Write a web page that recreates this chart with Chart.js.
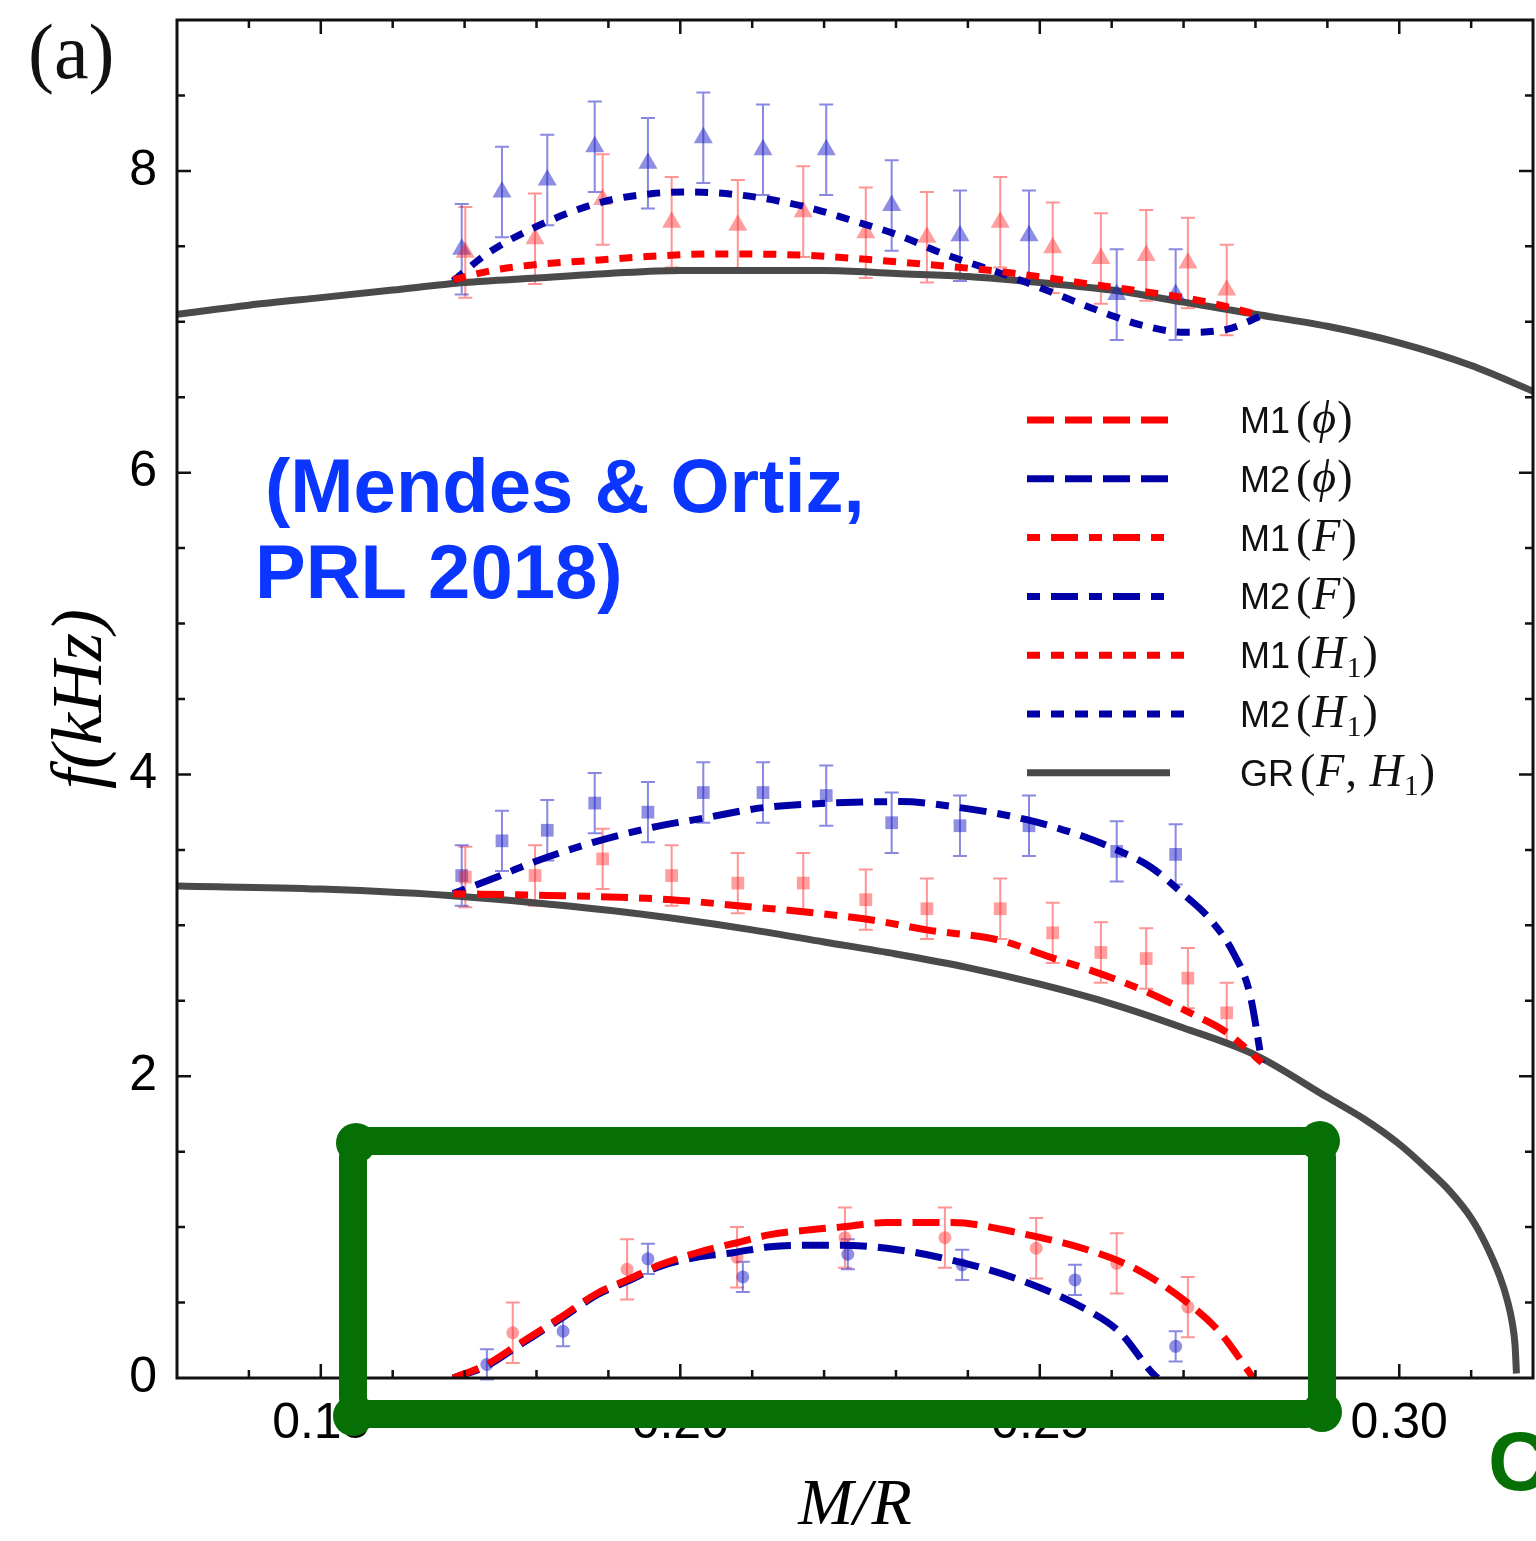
<!DOCTYPE html>
<html>
<head>
<meta charset="utf-8">
<script src="https://cdn.jsdelivr.net/npm/chart.js@4.4.0/dist/chart.umd.min.js"></script>
<style>
  html, body { margin: 0; padding: 0; background: #fff; }
  canvas { display: block; }
</style>
</head>
<body>
<canvas id="chart" width="1536" height="1541"></canvas>
<script>
// tick labels
const xTicks = [0.15, 0.20, 0.25, 0.30];
const yTicks = [0, 2, 4, 6, 8];

// GR curves: upper branch (H1) and lower branch (F)
const grHX = [0.130, 0.140, 0.150, 0.160, 0.170, 0.180, 0.190, 0.200, 0.210, 0.220, 0.230, 0.240, 0.250, 0.260, 0.270, 0.280, 0.290, 0.300, 0.310, 0.3186];
const grHY = [7.05, 7.11, 7.16, 7.21, 7.26, 7.29, 7.32, 7.34, 7.34, 7.34, 7.32, 7.30, 7.26, 7.21, 7.13, 7.05, 6.97, 6.86, 6.71, 6.54];
const grFX = [0.130, 0.150, 0.170, 0.190, 0.200, 0.210, 0.220, 0.230, 0.240, 0.250, 0.260, 0.270, 0.280, 0.290, 0.295, 0.300, 0.304, 0.307, 0.310, 0.312, 0.314, 0.315, 0.3157, 0.3161, 0.3163];
const grFY = [3.26, 3.24, 3.19, 3.10, 3.04, 2.97, 2.89, 2.81, 2.72, 2.61, 2.48, 2.32, 2.14, 1.86, 1.72, 1.55, 1.38, 1.24, 1.06, 0.89, 0.67, 0.52, 0.37, 0.22, 0.03];

// model curves
const m1PhiX = [0.1684, 0.1731, 0.1777, 0.1833, 0.1884, 0.1926, 0.1972, 0.2023, 0.2073, 0.2125, 0.2176, 0.2222, 0.2287, 0.2379, 0.2472, 0.2566, 0.2635, 0.2705, 0.2751, 0.2797];
const m1PhiY = [0, 0.09, 0.23, 0.40, 0.56, 0.65, 0.75, 0.83, 0.89, 0.95, 0.98, 1.00, 1.03, 1.03, 0.96, 0.85, 0.72, 0.50, 0.30, 0];
const m2PhiX = [0.1684, 0.1731, 0.1777, 0.1833, 0.1884, 0.1926, 0.1972, 0.2023, 0.2073, 0.2125, 0.2176, 0.2222, 0.2287, 0.2379, 0.2472, 0.2566, 0.2612, 0.2657, 0.2664];
const m2PhiY = [0, 0.08, 0.22, 0.39, 0.55, 0.64, 0.74, 0.80, 0.83, 0.87, 0.88, 0.88, 0.86, 0.78, 0.65, 0.45, 0.30, 0.03, 0];

const m1FX = [0.1684, 0.1798, 0.1888, 0.1988, 0.2080, 0.2171, 0.2260, 0.2343, 0.2445, 0.2514, 0.2584, 0.2653, 0.2709, 0.2760, 0.2809];
const m1FY = [3.21, 3.20, 3.19, 3.17, 3.13, 3.09, 3.04, 2.97, 2.90, 2.79, 2.68, 2.55, 2.42, 2.29, 2.09];
const m2FX = [0.1684, 0.1745, 0.1791, 0.1879, 0.1962, 0.2032, 0.2115, 0.2208, 0.2306, 0.2389, 0.2482, 0.2560, 0.2607, 0.2653, 0.2699, 0.2737, 0.2769, 0.2792, 0.2809];
const m2FY = [3.21, 3.32, 3.41, 3.55, 3.65, 3.71, 3.78, 3.81, 3.82, 3.78, 3.70, 3.59, 3.50, 3.39, 3.21, 3.04, 2.82, 2.55, 2.09];

const m1H1X = [0.1684, 0.1750, 0.1888, 0.2055, 0.2176, 0.2343, 0.2450, 0.2584, 0.2723, 0.2809];
const m1H1Y = [7.28, 7.35, 7.41, 7.45, 7.44, 7.38, 7.33, 7.24, 7.14, 7.04];
const m2H1X = [0.1684, 0.1731, 0.1795, 0.1888, 0.1962, 0.2009, 0.2083, 0.2176, 0.2240, 0.2306, 0.2361, 0.2459, 0.2514, 0.2584, 0.2640, 0.2702, 0.2760, 0.2809];
const m2H1Y = [7.27, 7.45, 7.62, 7.79, 7.85, 7.86, 7.84, 7.76, 7.67, 7.57, 7.46, 7.30, 7.20, 7.07, 6.98, 6.93, 6.95, 7.04];

// simulation points with error bars
const h1RedX = [0.1701, 0.1798, 0.1892, 0.1988, 0.2080, 0.2171, 0.2258, 0.2343, 0.2445, 0.2518, 0.2585, 0.2648, 0.2706, 0.2760];
const h1RedY = [7.46, 7.55, 7.81, 7.66, 7.64, 7.73, 7.59, 7.56, 7.66, 7.49, 7.42, 7.44, 7.39, 7.21];
const h1BlueX = [0.1696, 0.1752, 0.1815, 0.1881, 0.1955, 0.2032, 0.2115, 0.2203, 0.2294, 0.2389, 0.2485, 0.2607, 0.2689];
const h1BlueY = [7.48, 7.86, 7.94, 8.16, 8.05, 8.22, 8.14, 8.14, 7.77, 7.57, 7.57, 7.18, 7.18];
const fRedY = [3.32, 3.33, 3.44, 3.33, 3.28, 3.28, 3.17, 3.11, 3.11, 2.95, 2.82, 2.78, 2.65, 2.42];
const fBlueY = [3.33, 3.56, 3.63, 3.81, 3.75, 3.88, 3.88, 3.86, 3.68, 3.66, 3.66, 3.49, 3.47];
const phiRedX = [0.1767, 0.1926, 0.2079, 0.2229, 0.2368, 0.2495, 0.2607, 0.2706];
const phiRedY = [0.30, 0.72, 0.80, 0.93, 0.93, 0.86, 0.76, 0.47];
const phiBlueX = [0.1731, 0.1837, 0.1955, 0.2087, 0.2233, 0.2392, 0.2549, 0.2689];
const phiBlueY = [0.09, 0.31, 0.79, 0.67, 0.82, 0.75, 0.65, 0.21];
const errH1 = 0.3, errF = 0.2, errPhiRed = 0.2, errPhiBlue = 0.1;

const RED = '#ff0000';
const BLUE = '#0000a6';
const GREY = '#4a4a4a';
const GREEN = '#067006';
const DASH = [27, 11];
const DASHDOT = [13, 11, 27, 11];
const DOT = [13, 11];

const pts = (xs, ys) => xs.map((x, i) => ({ x: x, y: ys[i] }));

function curve(label, xs, ys, color, dash) {
  return {
    label: label, data: pts(xs, ys), showLine: true, pointRadius: 0,
    borderColor: color, borderWidth: 7, borderDash: dash, borderCapStyle: 'butt',
    cubicInterpolationMode: 'monotone', fill: false
  };
}

function markers(label, xs, ys, err, style, radius, red) {
  return {
    label: label, data: pts(xs, ys), showLine: false, err: err,
    pointStyle: style, pointRadius: radius,
    backgroundColor: red ? 'rgba(255,40,40,0.45)' : 'rgba(30,30,200,0.5)',
    borderWidth: 0,
    barColor: red ? 'rgba(255,60,60,0.55)' : 'rgba(40,40,200,0.55)'
  };
}

const datasets = [
  curve('M1(ϕ)', m1PhiX, m1PhiY, RED, DASH),
  curve('M2(ϕ)', m2PhiX, m2PhiY, BLUE, DASH),
  curve('M1(F)', m1FX, m1FY, RED, DASHDOT),
  curve('M2(F)', m2FX, m2FY, BLUE, DASHDOT),
  curve('M1(H1)', m1H1X, m1H1Y, RED, DOT),
  curve('M2(H1)', m2H1X, m2H1Y, BLUE, DOT),
  markers('M1 H1 sim', h1RedX, h1RedY, errH1, 'triangle', 11, true),
  markers('M2 H1 sim', h1BlueX, h1BlueY, errH1, 'triangle', 11, false),
  markers('M1 F sim', h1RedX, fRedY, errF, 'rect', 9, true),
  markers('M2 F sim', h1BlueX, fBlueY, errF, 'rect', 9, false),
  markers('M1 phi sim', phiRedX, phiRedY, errPhiRed, 'circle', 6.5, true),
  markers('M2 phi sim', phiBlueX, phiBlueY, errPhiBlue, 'circle', 6.5, false),
  curve('GR(F, H1)', grHX, grHY, GREY, []),
  curve('GR(F, H1)', grFX, grFY, GREY, [])
];

// vertical error bars under the markers
const errorBars = {
  id: 'errorBars',
  beforeDatasetsDraw(chart) {
    const { ctx, scales: { x, y } } = chart;
    chart.data.datasets.forEach(ds => {
      if (ds.err == null) return;
      ctx.save();
      ctx.strokeStyle = ds.barColor;
      ctx.lineWidth = 2;
      ds.data.forEach(p => {
        const px = x.getPixelForValue(p.x);
        const top = y.getPixelForValue(p.y + ds.err);
        const bot = y.getPixelForValue(p.y - ds.err);
        ctx.beginPath();
        ctx.moveTo(px, top); ctx.lineTo(px, bot);
        ctx.moveTo(px - 7, top); ctx.lineTo(px + 7, top);
        ctx.moveTo(px - 7, bot); ctx.lineTo(px + 7, bot);
        ctx.stroke();
      });
      ctx.restore();
    });
  }
};

// box frame with inward ticks on all four sides
const frame = {
  id: 'frame',
  afterDatasetsDraw(chart) {
    const { ctx, chartArea: a, scales: { x, y } } = chart;
    ctx.save();
    ctx.strokeStyle = '#111';
    ctx.lineWidth = 2.5;
    ctx.beginPath();
    for (let k = 14; k <= 31; k++) {
      const v = k / 100;
      const px = x.getPixelForValue(v);
      const len = xTicks.some(t => Math.abs(t - v) < 1e-6) ? 14 : 8;
      ctx.moveTo(px, a.bottom); ctx.lineTo(px, a.bottom - len);
      ctx.moveTo(px, a.top); ctx.lineTo(px, a.top + len);
    }
    for (let k = 1; k <= 17; k++) {
      const v = k * 0.5;
      const py = y.getPixelForValue(v);
      const len = yTicks.includes(v) ? 14 : 8;
      ctx.moveTo(a.left, py); ctx.lineTo(a.left + len, py);
      ctx.moveTo(a.right, py); ctx.lineTo(a.right - len, py);
    }
    ctx.stroke();
    ctx.lineWidth = 3;
    ctx.strokeRect(a.left, a.top, a.right - a.left, a.bottom - a.top);
    ctx.restore();
  }
};

// legend entries: sans-serif model name followed by a math-style argument
const legendEntries = [
  { ds: 0, parts: [['M1', 's'], ['(', 'p'], ['ϕ', 'i'], [')', 'p']] },
  { ds: 1, parts: [['M2', 's'], ['(', 'p'], ['ϕ', 'i'], [')', 'p']] },
  { ds: 2, parts: [['M1', 's'], ['(', 'p'], ['F', 'i'], [')', 'p']] },
  { ds: 3, parts: [['M2', 's'], ['(', 'p'], ['F', 'i'], [')', 'p']] },
  { ds: 4, parts: [['M1', 's'], ['(', 'p'], ['H', 'i'], ['1', 'b'], [')', 'p']] },
  { ds: 5, parts: [['M2', 's'], ['(', 'p'], ['H', 'i'], ['1', 'b'], [')', 'p']] },
  { ds: 12, parts: [['GR', 's'], ['(', 'p'], ['F', 'i'], [', ', 'p'], ['H', 'i'], ['1', 'b'], [')', 'p']] }
];
const partFonts = {
  s: '36px "Liberation Sans"',
  p: '46px "Liberation Serif"',
  i: 'italic 46px "Liberation Serif"',
  b: '30px "Liberation Serif"'
};

const legendBox = {
  id: 'legendBox',
  afterDraw(chart) {
    const ctx = chart.ctx;
    const x0 = 1027, y0 = 420, rowH = 58.8;
    ctx.save();
    legendEntries.forEach((e, r) => {
      const ds = chart.data.datasets[e.ds];
      const yy = y0 + r * rowH;
      const len = ds.borderDash === DOT ? 157 : (ds.borderDash.length ? 141 : 143);
      ctx.strokeStyle = ds.borderColor;
      ctx.lineWidth = 7;
      ctx.lineCap = 'butt';
      ctx.setLineDash(ds.borderDash);
      ctx.beginPath();
      ctx.moveTo(x0, yy); ctx.lineTo(x0 + len, yy);
      ctx.stroke();
      ctx.setLineDash([]);
      let tx = 1240;
      const base = yy + 13;
      ctx.fillStyle = '#111';
      ctx.textBaseline = 'alphabetic';
      ctx.textAlign = 'left';
      e.parts.forEach(([t, k]) => {
        ctx.font = partFonts[k];
        ctx.fillText(t, tx, k === 'b' ? base + 9 : base);
        tx += ctx.measureText(t).width + (k === 's' ? 6 : 1);
      });
    });
    ctx.restore();
  }
};

// panel letter, citation and the highlight box
const notes = {
  id: 'notes',
  afterDraw(chart) {
    const ctx = chart.ctx;
    ctx.save();
    ctx.textAlign = 'left';
    ctx.textBaseline = 'alphabetic';
    ctx.fillStyle = '#111';
    ctx.font = '78px "Liberation Serif"';
    ctx.fillText('(a)', 28, 78);

    ctx.fillStyle = '#0a36ff';
    ctx.font = 'bold 76px "Liberation Sans"';
    ctx.fillText('(Mendes & Ortiz,', 265, 512);
    ctx.fillText('PRL 2018)', 255, 598);

    ctx.strokeStyle = GREEN;
    ctx.fillStyle = GREEN;
    ctx.lineWidth = 28;
    ctx.lineJoin = 'round';
    ctx.beginPath();
    ctx.roundRect(353, 1141, 969, 273, 16);
    ctx.stroke();
    [[356, 1143], [1320, 1141], [1322, 1412], [353, 1416]].forEach(([cx, cy]) => {
      ctx.beginPath();
      ctx.arc(cx, cy, 20, 0, Math.PI * 2);
      ctx.fill();
    });

    ctx.font = 'bold 84px "Liberation Sans"';
    ctx.fillText('C', 1488, 1490);
    ctx.restore();
  }
};

Chart.defaults.font.family = '"Liberation Sans", Arial, sans-serif';
Chart.defaults.color = '#000';

// markers may touch the frame, so the plot area does not shrink to make room for them
Chart.registry.getController('scatter').prototype.getMaxOverflow = function () { return 0; };

new Chart(document.getElementById('chart').getContext('2d'), {
  type: 'scatter',
  data: { datasets: datasets },
  options: {
    responsive: false,
    animation: false,
    layout: { padding: { left: 0, right: 3, top: 20, bottom: 0 } },
    plugins: { legend: { display: false }, tooltip: { enabled: false } },
    scales: {
      x: {
        type: 'linear', min: 0.13, max: 0.3186,
        grid: { display: false }, border: { display: false },
        afterBuildTicks: s => { s.ticks = xTicks.map(v => ({ value: v })); },
        ticks: {
          font: { size: 50 }, color: '#000', padding: 8,
          autoSkip: false, maxRotation: 0,
          callback: v => v.toFixed(2)
        },
        title: {
          display: true, text: 'M/R', color: '#000',
          font: { family: '"Liberation Serif"', style: 'italic', size: 66, lineHeight: 1 },
          padding: { top: 0, bottom: 1 }
        },
        afterFit: s => { s.height = 163; s.paddingLeft = 0; s.paddingRight = 0; }
      },
      y: {
        type: 'linear', min: 0, max: 9,
        grid: { display: false }, border: { display: false },
        afterBuildTicks: s => { s.ticks = yTicks.map(v => ({ value: v })); },
        ticks: {
          font: { size: 50 }, color: '#000', padding: 12,
          autoSkip: false, callback: v => String(v)
        },
        title: {
          display: true, text: 'f(kHz)', color: '#000',
          font: { family: '"Liberation Serif"', style: 'italic', size: 72, lineHeight: 1 },
          padding: { top: 46, bottom: 0 }
        },
        afterFit: s => { s.width = 177; s.paddingTop = 0; s.paddingBottom = 0; }
      }
    }
  },
  plugins: [errorBars, frame, legendBox, notes]
});
</script>
</body>
</html>
